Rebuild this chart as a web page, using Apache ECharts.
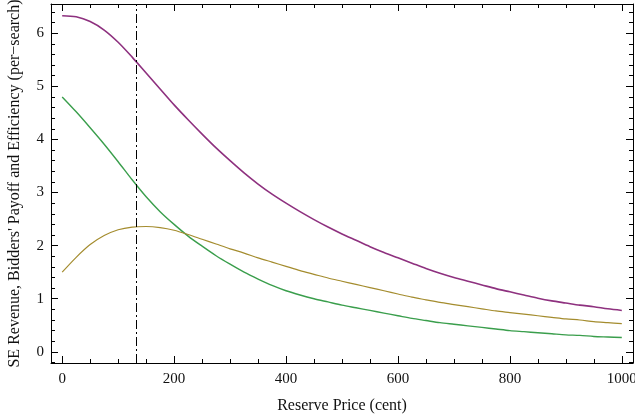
<!DOCTYPE html>
<html>
<head>
<meta charset="utf-8">
<script src="https://cdn.jsdelivr.net/npm/echarts@6/dist/echarts.min.js"></script>
<style>
  html, body { margin: 0; padding: 0; background: #fff; }
  #chart { width: 635px; height: 419px; }
</style>
</head>
<body>
<div id="chart"></div>
<script>
// Reserve price (cent) sample positions
const reservePrice = [0, 25, 50, 75, 100, 125, 150, 175, 200, 225, 250, 275, 300, 325, 350, 375, 400,
  425, 450, 475, 500, 525, 550, 575, 600, 625, 650, 675, 700, 725, 750, 775, 800, 825, 850, 875, 900,
  925, 950, 975, 1000];

// Efficiency (purple)
const efficiency = [6.33, 6.31, 6.22, 6.06, 5.83, 5.55, 5.25, 4.95, 4.65, 4.37, 4.10, 3.84, 3.60,
  3.37, 3.16, 2.97, 2.80, 2.64, 2.49, 2.35, 2.22, 2.10, 1.98, 1.87, 1.77, 1.67, 1.57, 1.48, 1.40,
  1.33, 1.26, 1.19, 1.13, 1.07, 1.01, 0.96, 0.92, 0.88, 0.85, 0.81, 0.78];

// Bidders' payoff (green)
const biddersPayoff = [4.80, 4.52, 4.22, 3.91, 3.58, 3.24, 2.92, 2.64, 2.40, 2.18, 1.99, 1.81, 1.65,
  1.50, 1.37, 1.25, 1.15, 1.07, 1.00, 0.94, 0.88, 0.83, 0.78, 0.73, 0.68, 0.63, 0.59, 0.55, 0.52,
  0.49, 0.46, 0.43, 0.40, 0.38, 0.36, 0.34, 0.32, 0.31, 0.29, 0.28, 0.27];

// SE revenue (olive)
const seRevenue = [1.50, 1.78, 2.02, 2.19, 2.30, 2.35, 2.36, 2.34, 2.29, 2.21, 2.12, 2.03, 1.94,
  1.86, 1.77, 1.69, 1.61, 1.53, 1.46, 1.39, 1.33, 1.27, 1.21, 1.15, 1.09, 1.03, 0.98, 0.93, 0.89,
  0.85, 0.81, 0.77, 0.74, 0.71, 0.68, 0.65, 0.62, 0.60, 0.57, 0.55, 0.53];

// Optimal reserve price (dash-dot marker)
const optimalReserve = 133;

// Tick positions
const xMajorTicks = [0, 200, 400, 600, 800, 1000];
const xMinorTicks = [0, 50, 100, 150, 200, 250, 300, 350, 400, 450, 500, 550, 600, 650, 700, 750,
  800, 850, 900, 950, 1000];
const yMajorTicks = [0, 1, 2, 3, 4, 5, 6];
const yMinorTicks = [-0.2, 0, 0.2, 0.4, 0.6, 0.8, 1, 1.2, 1.4, 1.6, 1.8, 2, 2.2, 2.4, 2.6, 2.8, 3,
  3.2, 3.4, 3.6, 3.8, 4, 4.2, 4.4, 4.6, 4.8, 5, 5.2, 5.4, 5.6, 5.8, 6, 6.2, 6.4];

const X_MIN = -20, X_MAX = 1020;
const Y_MIN = -0.21, Y_MAX = 6.55;
const FONT = '"Liberation Serif", "DejaVu Serif", serif';

function pairs(ys) {
  return reservePrice.map((x, i) => [x, ys[i]]);
}

// one axis = one side of the Mathematica style frame
function xAxisSide(position, ticks, len, withLabels, withLine) {
  return {
    type: 'value', position: position, min: X_MIN, max: X_MAX, offset: 0,
    name: withLabels ? 'Reserve Price (cent)' : '',
    nameLocation: 'middle', nameGap: 35,
    nameTextStyle: { fontFamily: FONT, fontSize: 16, color: '#111' },
    axisLine: { show: withLine, onZero: false, lineStyle: { color: '#000', width: 1 } },
    axisTick: { show: true, inside: true, length: len, customValues: ticks,
      lineStyle: { color: '#000', width: 1 } },
    axisLabel: { show: withLabels, customValues: xMajorTicks, margin: 9,
      formatter: v => String(v),
      fontFamily: FONT, fontSize: 15, color: '#111' },
    splitLine: { show: false }
  };
}

function yAxisSide(position, ticks, len, withLabels, withLine) {
  return {
    type: 'value', position: position, min: Y_MIN, max: Y_MAX, offset: 0,
    name: withLabels ? 'SE Revenue, Bidders\' Payoff and Efficiency (per\u2212search)' : '',
    nameLocation: 'middle', nameGap: 28,
    nameTextStyle: { fontFamily: FONT, fontSize: 16, color: '#111' },
    axisLine: { show: withLine, onZero: false, lineStyle: { color: '#000', width: 1 } },
    axisTick: { show: true, inside: true, length: len, customValues: ticks,
      lineStyle: { color: '#000', width: 1 } },
    axisLabel: { show: withLabels, customValues: yMajorTicks, margin: 7,
      formatter: v => String(v),
      fontFamily: FONT, fontSize: 15, color: '#111' },
    splitLine: { show: false }
  };
}

const chart = echarts.init(document.getElementById('chart'), null, { renderer: 'canvas' });

chart.setOption({
  animation: false,
  backgroundColor: '#fff',
  grid: { left: 51, top: 4, width: 582, height: 359, containLabel: false, outerBoundsMode: 'none' },
  xAxis: [
    xAxisSide('bottom', xMajorTicks, 7, true, true),
    xAxisSide('bottom', xMinorTicks, 4, false, false),
    xAxisSide('top', xMajorTicks, 7, false, true),
    xAxisSide('top', xMinorTicks, 4, false, false)
  ],
  yAxis: [
    yAxisSide('left', yMajorTicks, 7, true, true),
    yAxisSide('left', yMinorTicks, 4, false, false),
    yAxisSide('right', yMajorTicks, 7, false, true),
    yAxisSide('right', yMinorTicks, 4, false, false)
  ],
  series: [
    {
      name: 'Efficiency', type: 'line', showSymbol: false, smooth: 0.3,
      data: pairs(efficiency),
      lineStyle: { color: '#8e317f', width: 1.6 },
      markLine: {
        silent: true, symbol: 'none',
        label: { show: false },
        lineStyle: { color: '#000', width: 1, type: [9, 3, 2, 3] },
        data: [{ xAxis: optimalReserve }]
      }
    },
    {
      name: 'Bidders\' Payoff', type: 'line', showSymbol: false, smooth: 0.3,
      data: pairs(biddersPayoff),
      lineStyle: { color: '#3a9e4c', width: 1.4 }
    },
    {
      name: 'SE Revenue', type: 'line', showSymbol: false, smooth: 0.3,
      data: pairs(seRevenue),
      lineStyle: { color: '#a48c2e', width: 1.2 }
    }
  ]
});
</script>
</body>
</html>
